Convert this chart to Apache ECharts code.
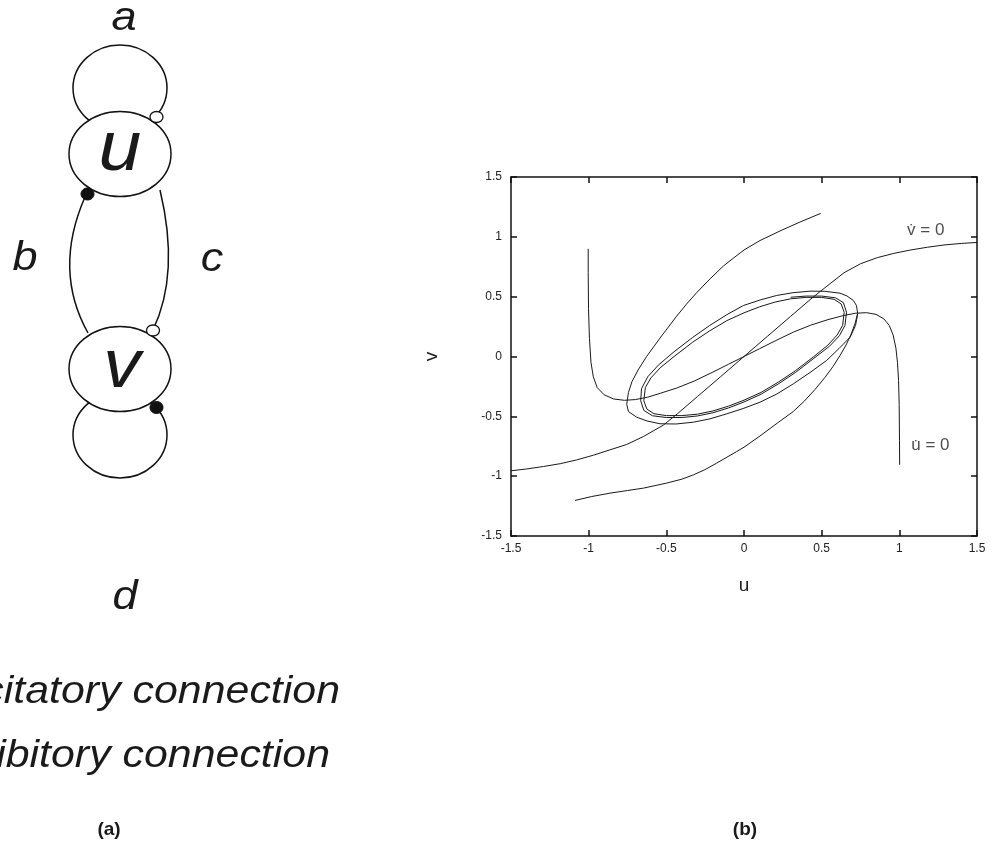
<!DOCTYPE html>
<html>
<head>
<meta charset="utf-8">
<script src="https://cdn.jsdelivr.net/npm/echarts@6/dist/echarts.min.js"></script>
<style>
  html, body { margin: 0; padding: 0; background: #fff; }
  #main { width: 993px; height: 847px; }
</style>
</head>
<body>
<div id="main"></div>
<script>
// tick values shared by both axes
var axisTicks = [-1.5, -1, -0.5, 0, 0.5, 1, 1.5];

// nullcline u' = 0  [u, v]
var nullclineU = [
  [-1.003, 0.90], [-1.003, 0.70], [-1.001, 0.40], [-0.995, 0.15], [-0.985, -0.05],
  [-0.97, -0.17], [-0.945, -0.26], [-0.90, -0.32], [-0.84, -0.355], [-0.77, -0.366],
  [-0.70, -0.36], [-0.62, -0.34], [-0.54, -0.308], [-0.43, -0.262], [-0.32, -0.205],
  [-0.20, -0.13], [-0.10, -0.065], [0, 0], [0.10, 0.065], [0.20, 0.13], [0.32, 0.205],
  [0.43, 0.262], [0.54, 0.308], [0.64, 0.342], [0.72, 0.362], [0.79, 0.366],
  [0.85, 0.352], [0.90, 0.315], [0.935, 0.26], [0.96, 0.18], [0.978, 0.07],
  [0.988, -0.05], [0.995, -0.20], [0.999, -0.40], [1.001, -0.70], [1.002, -0.905]
];

// nullcline v' = 0
var nullclineV = [
  [-1.5, -0.955], [-1.4, -0.94], [-1.29, -0.919], [-1.18, -0.895], [-1.077, -0.864],
  [-0.97, -0.825], [-0.863, -0.78], [-0.755, -0.735], [-0.648, -0.669], [-0.52, -0.574],
  [-0.43, -0.48], [-0.30, -0.335], [-0.15, -0.168], [0, 0], [0.15, 0.168], [0.30, 0.335],
  [0.43, 0.48], [0.494, 0.547], [0.644, 0.70], [0.75, 0.775], [0.858, 0.826],
  [0.965, 0.862], [1.073, 0.89], [1.18, 0.913], [1.288, 0.932], [1.4, 0.945], [1.5, 0.953]
];

// limit cycle
var limitCycle = [
  [0.645, 0.37], [0.625, 0.44], [0.58, 0.478], [0.50, 0.494], [0.40, 0.494], [0.30, 0.482],
  [0.20, 0.455], [0.10, 0.415], [0.0, 0.365], [-0.11, 0.30], [-0.22, 0.215], [-0.33, 0.12],
  [-0.45, 0.0], [-0.54, -0.095], [-0.60, -0.18], [-0.635, -0.26], [-0.645, -0.37],
  [-0.625, -0.44], [-0.58, -0.478], [-0.50, -0.494], [-0.40, -0.494], [-0.30, -0.482],
  [-0.20, -0.455], [-0.10, -0.415], [0.0, -0.365], [0.11, -0.30], [0.22, -0.215],
  [0.33, -0.12], [0.45, 0.0], [0.54, 0.095], [0.60, 0.18], [0.635, 0.26], [0.645, 0.37]
];

// trajectory starting at (0.5, 1.2)
var trajectory1 = [
  [0.494, 1.196], [0.361, 1.124], [0.232, 1.049], [0.103, 0.969], [0.0, 0.890],
  [-0.064, 0.826], [-0.133, 0.756], [-0.219, 0.648], [-0.305, 0.533], [-0.370, 0.438],
  [-0.433, 0.338], [-0.531, 0.171], [-0.627, 0.0], [-0.682, -0.113], [-0.721, -0.209],
  [-0.744, -0.301], [-0.755, -0.400], [-0.744, -0.460], [-0.691, -0.507], [-0.624, -0.539],
  [-0.541, -0.562], [-0.438, -0.564], [-0.326, -0.549], [-0.219, -0.521], [-0.111, -0.479],
  [-0.006, -0.435], [0.103, -0.382], [0.212, -0.313], [0.318, -0.228], [0.425, -0.134],
  [0.532, -0.033], [0.612, 0.067], [0.683, 0.161], [0.718, 0.259], [0.732, 0.357],
  [0.724, 0.426], [0.704, 0.468], [0.663, 0.506], [0.618, 0.529], [0.521, 0.545],
  [0.425, 0.546], [0.315, 0.533], [0.210, 0.510], [0.103, 0.472], [-0.004, 0.426],
  [-0.11, 0.35], [-0.22, 0.26], [-0.33, 0.16], [-0.45, 0.04], [-0.55, -0.07],
  [-0.62, -0.17], [-0.66, -0.27], [-0.665, -0.37], [-0.645, -0.45], [-0.59, -0.495],
  [-0.50, -0.51], [-0.40, -0.51], [-0.30, -0.497], [-0.20, -0.47], [-0.10, -0.43],
  [0.0, -0.38], [0.11, -0.315], [0.22, -0.23], [0.33, -0.135], [0.45, -0.015],
  [0.55, 0.085], [0.615, 0.175], [0.65, 0.26], [0.66, 0.37], [0.64, 0.45], [0.59, 0.49],
  [0.50, 0.505], [0.40, 0.505], [0.30, 0.495]
];

// trajectory starting at (-1.09, -1.2)
var trajectory2 = [
  [-1.088, -1.203], [-0.98, -1.17], [-0.863, -1.142], [-0.75, -1.12], [-0.648, -1.10],
  [-0.498, -1.058], [-0.40, -1.025], [-0.326, -0.989], [-0.25, -0.945], [-0.176, -0.891],
  [-0.047, -0.794], [0.0, -0.758], [0.103, -0.664], [0.214, -0.557], [0.317, -0.46],
  [0.386, -0.376], [0.457, -0.276], [0.521, -0.175], [0.573, -0.084], [0.618, 0.008],
  [0.657, 0.096], [0.689, 0.184], [0.715, 0.276], [0.731, 0.357]
];

var nullclineNames = ['v\u0307 = 0', 'u\u0307 = 0'];
var nullclineLabelPos = [[1.17, 1.058], [1.2, -0.745]];

var lineColor = '#1a1a1a';
var font = '"Liberation Sans", Arial, Helvetica, sans-serif';

function curve(name, data) {
  return {
    name: name,
    type: 'line',
    data: data,
    showSymbol: false,
    smooth: false,
    lineStyle: { color: lineColor, width: 1 },
    silent: true
  };
}

function axisCommon(extra) {
  var a = {
    type: 'value',
    min: axisTicks[0],
    max: axisTicks[axisTicks.length - 1],
    interval: 0.5,
    splitLine: { show: false },
    axisLine: { show: true, onZero: false, lineStyle: { color: '#111', width: 1.5 } },
    axisTick: { show: true, inside: true, length: 6, lineStyle: { color: '#111', width: 1.5 } },
    axisLabel: { color: '#222', fontSize: 12, fontFamily: font }
  };
  for (var k in extra) a[k] = extra[k];
  return a;
}

function txt(x, y, text, size, opts) {
  opts = opts || {};
  return {
    type: 'text',
    x: x,
    y: y,
    scaleX: opts.scaleX || 1,
    z: 10,
    style: {
      x: 0, y: 0,
      text: text,
      font: (opts.style || 'italic') + ' ' + (opts.weight || 'normal') + ' ' + size + 'px ' + font,
      fill: '#1a1a1a',
      align: opts.align || 'center',
      textAlign: opts.align || 'center',
      verticalAlign: 'middle',
      textVerticalAlign: 'middle'
    }
  };
}

function strokeStyle(fill) {
  return { stroke: '#111', lineWidth: 1.5, fill: fill || 'none' };
}

var myChart = echarts.init(document.getElementById('main'), null, { renderer: 'canvas' });

var option = {
  animation: false,
  backgroundColor: '#fff',
  grid: { left: 511, top: 177, width: 466, height: 359 },
  xAxis: [
    axisCommon({
      name: 'u', nameLocation: 'middle', nameGap: 40,
      nameTextStyle: { fontSize: 19, color: '#222', fontFamily: font },
      axisLabel: { color: '#222', fontSize: 12, fontFamily: font, margin: 7 }
    }),
    axisCommon({ position: 'top', axisLabel: { show: false } })
  ],
  yAxis: [
    axisCommon({
      name: 'v', nameLocation: 'middle', nameGap: 70,
      nameTextStyle: { fontSize: 19, color: '#222', fontFamily: font },
      axisLabel: { color: '#222', fontSize: 12, fontFamily: font, margin: 9 }
    }),
    axisCommon({ position: 'right', axisLabel: { show: false } })
  ],
  series: [
    curve('u nullcline', nullclineU),
    curve('v nullcline', nullclineV),
    curve('limit cycle', limitCycle),
    curve('trajectory 1', trajectory1),
    curve('trajectory 2', trajectory2),
    {
      name: 'labels',
      type: 'scatter',
      symbolSize: 0,
      itemStyle: { color: 'rgba(0,0,0,0)' },
      silent: true,
      data: nullclineLabelPos.map(function (p, i) {
        return { name: nullclineNames[i], value: p };
      }),
      label: {
        show: true,
        position: 'inside',
        formatter: '{b}',
        fontSize: 17,
        color: '#222',
        fontFamily: font
      }
    }
  ],
  graphic: [
    // self loops and cross connections
    { type: 'ellipse', z: 1, shape: { cx: 120, cy: 88, rx: 47, ry: 43 }, style: strokeStyle('#fff') },
    { type: 'ellipse', z: 1, shape: { cx: 120, cy: 435, rx: 47, ry: 43 }, style: strokeStyle('#fff') },
    { type: 'bezierCurve', z: 1, shape: { x1: 85, y1: 197, cpx1: 64, cpy1: 245, cpx2: 64, cpy2: 290, x2: 88, y2: 333 }, style: strokeStyle() },
    { type: 'bezierCurve', z: 1, shape: { x1: 160, y1: 190, cpx1: 172, cpy1: 240, cpx2: 172, cpy2: 290, x2: 153, y2: 330 }, style: strokeStyle() },
    // units
    { type: 'ellipse', z: 2, shape: { cx: 120, cy: 154, rx: 51, ry: 42.5 }, style: strokeStyle('#fff') },
    { type: 'ellipse', z: 2, shape: { cx: 120, cy: 369, rx: 51, ry: 42.5 }, style: strokeStyle('#fff') },
    // connection endings
    { type: 'ellipse', z: 3, shape: { cx: 156.5, cy: 117, rx: 6.5, ry: 5.5 }, style: { stroke: '#111', lineWidth: 1.3, fill: '#fff' } },
    { type: 'ellipse', z: 3, shape: { cx: 153, cy: 330.5, rx: 6.5, ry: 5.5 }, style: { stroke: '#111', lineWidth: 1.3, fill: '#fff' } },
    { type: 'ellipse', z: 3, shape: { cx: 87.5, cy: 194, rx: 6.5, ry: 6 }, style: { stroke: '#111', lineWidth: 1, fill: '#111' } },
    { type: 'ellipse', z: 3, shape: { cx: 156.5, cy: 407.5, rx: 6.5, ry: 6 }, style: { stroke: '#111', lineWidth: 1, fill: '#111' } },
    // labels
    txt(120, 151, 'u', 70, { scaleX: 1.1 }),
    txt(122, 368, 'v', 68, { scaleX: 1.1 }),
    txt(124, 19, 'a', 41, { scaleX: 1.1 }),
    txt(25, 259, 'b', 41, { scaleX: 1.1 }),
    txt(212, 260, 'c', 41, { scaleX: 1.1 }),
    txt(125, 598, 'd', 41, { scaleX: 1.1 }),
    txt(340, 692, 'excitatory connection', 39, { align: 'right', scaleX: 1.1 }),
    txt(330, 756, 'inhibitory connection', 39, { align: 'right', scaleX: 1.1 }),
    txt(109, 830, '(a)', 19, { style: 'normal', weight: 'bold' }),
    txt(745, 830, '(b)', 19, { style: 'normal', weight: 'bold' })
  ]
};

myChart.setOption(option);
</script>
</body>
</html>
